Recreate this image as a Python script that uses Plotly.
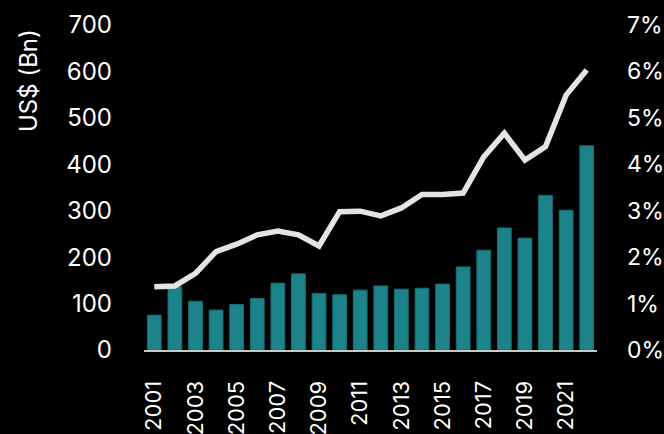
import plotly.graph_objects as go

years = list(range(2001, 2023))
investment_bn = [75, 136, 105, 86, 98, 111, 144, 164, 122, 119, 129, 138,
                 131, 133, 142, 179, 215, 263, 241, 333, 301, 440]
share_pct = [1.36, 1.38, 1.65, 2.12, 2.28, 2.48, 2.56, 2.48, 2.24, 2.98, 2.99, 2.89,
             3.06, 3.35, 3.35, 3.38, 4.16, 4.67, 4.09, 4.38, 5.49, 6.03]
x_ticks = list(range(2001, 2022, 2))

FONT = "Inter, Lato, sans-serif"
fig = go.Figure()
fig.add_trace(go.Bar(x=years, y=investment_bn, marker=dict(color="#1c838a", line=dict(color="#156c72", width=1)),
                     yaxis="y", showlegend=False))
fig.add_trace(go.Scatter(x=years, y=share_pct, mode="lines", yaxis="y2",
                         line=dict(color="#e4e4e4", width=5.5), showlegend=False))
fig.update_layout(
    width=664, height=434,
    paper_bgcolor="black", plot_bgcolor="black",
    margin=dict(l=144, r=67, t=25, b=84, autoexpand=False),
    bargap=0.33,
    font=dict(family=FONT, color="white", size=24),
    xaxis=dict(range=[2000.5, 2022.5], tickvals=x_ticks, ticktext=[str(v) for v in x_ticks],
               tickangle=-90, showgrid=False, zeroline=False, showline=True, linecolor="#c8c8c8",
               linewidth=2, ticks="", ticklabelstandoff=20, tickfont=dict(size=22), automargin=False),
    yaxis=dict(range=[0, 700], dtick=100, showgrid=False, zeroline=False, ticklabelstandoff=31,
               automargin=False),
    yaxis2=dict(range=[0, 7], dtick=1, ticksuffix="%", overlaying="y", side="right",
                showgrid=False, zeroline=False, ticklabelstandoff=29, automargin=False,
                tickfont=dict(size=23)),
    annotations=[dict(text="US$ (Bn)", xref="paper", yref="paper", x=-144/453 + 12/453, y=1 - 2/325,
                      xanchor="left", yanchor="top", textangle=-90, showarrow=False,
                      font=dict(size=24, color="white"))],
)
fig.write_html("out.html")
